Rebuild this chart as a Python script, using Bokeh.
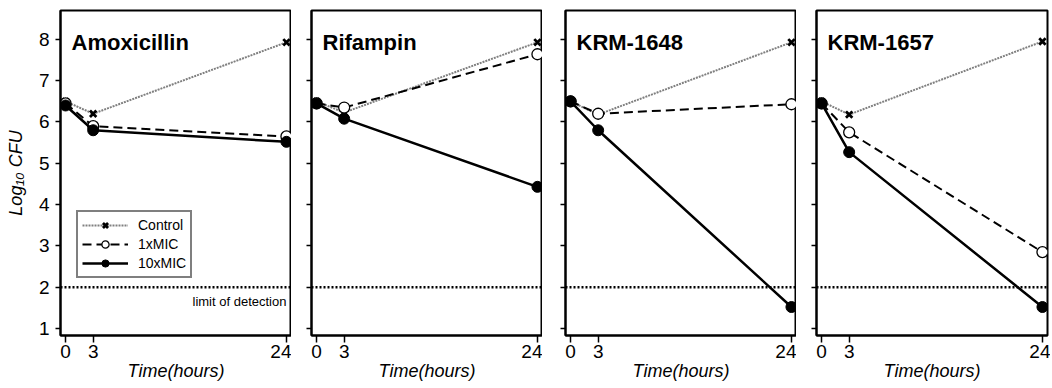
from bokeh.plotting import figure
from bokeh.layouts import row
from bokeh.models import Range1d, Label, Span, Legend, LegendItem, FixedTicker, CustomLabelingPolicy
from bokeh.embed import file_html
from bokeh.resources import INLINE

hours = [0, 3, 24]
drugs = ["Amoxicillin", "Rifampin", "KRM-1648", "KRM-1657"]
control = [
    [6.5, 6.2, 7.93],
    [6.5, 6.23, 7.93],
    [6.5, 6.18, 7.93],
    [6.5, 6.18, 7.95],
]
mic1 = [
    [6.45, 5.9, 5.65],
    [6.45, 6.35, 7.64],
    [6.5, 6.2, 6.43],
    [6.45, 5.75, 2.85],
]
mic10 = [
    [6.4, 5.8, 5.52],
    [6.45, 6.08, 4.43],
    [6.5, 5.8, 1.52],
    [6.45, 5.27, 1.52],
]
y_ticks = [1, 2, 3, 4, 5, 6, 7, 8]
detection_limit = 2
legend_labels = ["Control", "1xMIC", "10xMIC"]
x_title = "Time(hours)"
y_title = "Log\u2081\u2080 CFU"

FONT = "Liberation Sans"
FW, FH = 231, 325
left_borders = [60, 20, 23, 20]
figs = []
for i, drug in enumerate(drugs):
    p = figure(
        frame_width=FW, frame_height=FH,
        x_range=Range1d(-0.55, 24.55), y_range=Range1d(0.83, 8.70),
        output_backend="svg", toolbar_location=None,
        min_border_left=left_borders[i], min_border_right=(3 if i == 3 else 0),
        min_border_top=10, min_border_bottom=52,
    )
    p.grid.visible = False
    p.outline_line_color = "black"
    p.outline_line_width = 2
    p.background_fill_color = "white"
    p.border_fill_color = "white"

    p.xaxis.ticker = FixedTicker(ticks=hours)
    p.yaxis.ticker = FixedTicker(ticks=y_ticks)
    for ax in (p.xaxis[0], p.yaxis[0]):
        ax.axis_line_color = "black"
        ax.axis_line_width = 2
        ax.major_tick_line_color = "black"
        ax.major_tick_line_width = 1.5
        ax.minor_tick_line_color = None
        ax.major_label_text_font = FONT
        ax.major_label_text_font_size = "19px"
        ax.major_label_text_color = "black"
        ax.axis_label_text_font = FONT
        ax.axis_label_text_font_style = "italic"
        ax.axis_label_text_font_size = "18px"
        ax.axis_label_text_color = "black"
    p.xaxis.major_tick_out = 7
    p.xaxis.major_tick_in = 0
    p.xaxis.major_label_standoff = 2
    p.xaxis.axis_label = x_title
    p.xaxis.axis_label_standoff = 0
    p.yaxis.major_tick_out = 5
    p.yaxis.major_tick_in = 0
    if i == 0:
        p.yaxis.axis_label = y_title
        p.yaxis.major_label_standoff = 6
        p.yaxis.axis_label_standoff = 10
    else:
        p.yaxis.major_label_text_font_size = "10px"
        p.yaxis.major_label_standoff = 0
        p.yaxis.major_label_policy = CustomLabelingPolicy(code="return new Set()")

    p.add_layout(Span(location=detection_limit, dimension="width",
                      line_color="black", line_width=2.5, line_dash="2 2"))

    rc_l = p.line(hours, control[i], line_color="#808080", line_width=2, line_dash="2 1")
    rc_m = p.scatter(hours, control[i], marker="x", size=9, line_color="black", line_width=2.8)
    r1_l = p.line(hours, mic1[i], line_color="black", line_width=2, line_dash="9 5")
    r1_m = p.scatter(hours, mic1[i], marker="circle", size=11, fill_color="white",
                     line_color="black", line_width=1.3)
    r10_l = p.line(hours, mic10[i], line_color="black", line_width=2.5)
    r10_m = p.scatter(hours, mic10[i], marker="circle", size=11, fill_color="black",
                      line_color="black")

    p.add_layout(Label(x=11, y=293, x_units="screen", y_units="screen", text=drug,
                       text_font=FONT, text_font_style="bold", text_font_size="22px",
                       text_color="black", text_baseline="alphabetic"))

    if i == 0:
        p.add_layout(Label(x=24, y=detection_limit, y_offset=-7, text="limit of detection",
                           text_font=FONT, text_font_size="13px", text_color="black",
                           text_align="right", text_baseline="top"))
        legend = Legend(
            items=[LegendItem(label=legend_labels[0], renderers=[rc_l, rc_m]),
                   LegendItem(label=legend_labels[1], renderers=[r1_l, r1_m]),
                   LegendItem(label=legend_labels[2], renderers=[r10_l, r10_m])],
            location=(16, 57),
            border_line_color="black", border_line_width=2,
            background_fill_color="white", background_fill_alpha=1,
            label_text_font=FONT, label_text_font_size="14px", label_text_color="black",
            glyph_width=46, glyph_height=18, label_height=18, spacing=1,
            padding=4, margin=0, label_standoff=10,
        )
        p.add_layout(legend)
    figs.append(p)

layout = row(*figs, spacing=0)
open("out.html", "w").write(file_html(layout, INLINE))
